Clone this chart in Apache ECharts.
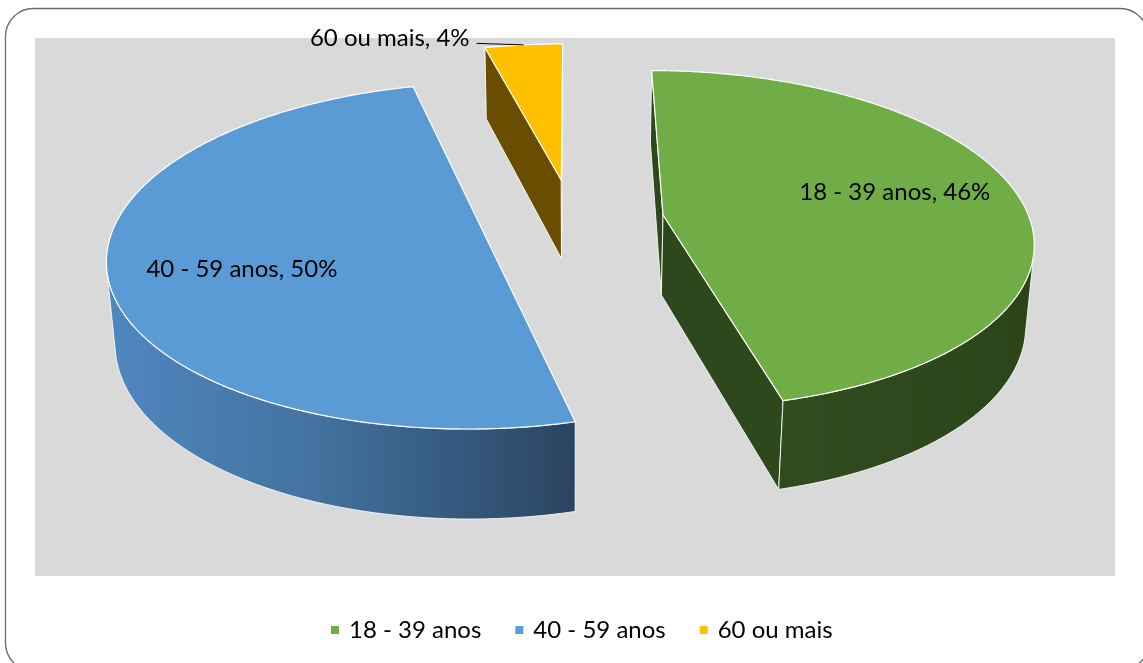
<!DOCTYPE html>
<html><head><meta charset="utf-8">
<script src="https://cdn.jsdelivr.net/npm/echarts@6/dist/echarts.min.js"></script>
<style>html,body{margin:0;padding:0;background:#fff}#c{width:1143px;height:663px}</style>
</head><body><div id="c"></div>
<script>
// ---- data ----
const categories = ['18 - 39 anos', '40 - 59 anos', '60 ou mais'];
const values = [46, 50, 4];

// ---- style ----
const topColors = ['#70ad47', '#5b9bd5', '#ffc000'];
const outerWallStops = [
  [[0, '#304c1f'], [1, '#2b4519']],
  [[0, '#4f87c0'], [0.45, '#43729f'], [1, '#2a4460']],
  [[0, '#6a4f00'], [1, '#5e4600']]
];
const radialColors = ['#2d481c', '#2b4561', '#6a4e00'];
const FONT = 'Lato, "Open Sans", sans-serif';

const VIEW = { cx: 572.4, cy: 220.2, f: 2275, D: 6.2, phi: 27 * Math.PI / 180, depth: 0.25, explode: 0.25 };
const sinP = Math.sin(VIEW.phi), cosP = Math.cos(VIEW.phi);
const cam = [0, VIEW.D * sinP, -VIEW.D * cosP];
function project(x, y, z) {
  const Yc = y * cosP + z * sinP;
  const Zc = VIEW.D + z * cosP - y * sinP;
  return [VIEW.cx + VIEW.f * x / Zc, VIEW.cy - VIEW.f * Yc / Zc];
}
const total = values.reduce((a, b) => a + b, 0);
const starts = []; let acc = 0;
values.forEach(v => { starts.push(acc / total * 2 * Math.PI); acc += v; });

function facing(n, p) {
  return n[0] * (cam[0] - p[0]) + n[1] * (cam[1] - p[1]) + n[2] * (cam[2] - p[2]) > 0;
}

function renderSlice(i) {
  const v = values[i];
  const a0 = starts[i], a1 = a0 + v / total * 2 * Math.PI, am = (a0 + a1) / 2;
  const ox = VIEW.explode * Math.sin(am), oz = VIEW.explode * Math.cos(am);
  const T = VIEW.depth;
  const rim = (a, y, r) => [ox + (r == null ? 1 : r) * Math.sin(a), y, oz + (r == null ? 1 : r) * Math.cos(a)];
  const pr = p => project(p[0], p[1], p[2]);
  const children = [];
  const edge = { stroke: 'rgba(255,255,255,0.85)', lineWidth: 1, lineJoin: 'round' };

  // radial walls
  [[a0, [-Math.cos(a0), 0, Math.sin(a0)]], [a1, [Math.cos(a1), 0, -Math.sin(a1)]]].forEach(([a, n]) => {
    if (facing(n, [ox, 0, oz])) {
      const pts = [pr([ox, 0, oz]), pr(rim(a, 0)), pr(rim(a, -T)), pr([ox, -T, oz])];
      children.push({ type: 'polygon', shape: { points: pts }, style: Object.assign({ fill: radialColors[i] }, edge) });
    }
  });

  // outer curved wall (visible run)
  const N = Math.max(12, Math.ceil((a1 - a0) / (Math.PI / 360)));
  let run = [], best = [];
  for (let k = 0; k <= N; k++) {
    const a = a0 + (a1 - a0) * k / N;
    if (facing([Math.sin(a), 0, Math.cos(a)], rim(a, 0))) run.push(a);
    else { if (run.length > best.length) best = run; run = []; }
  }
  if (run.length > best.length) best = run;
  if (best.length > 1) {
    const top = best.map(a => pr(rim(a, 0)));
    const bot = best.map(a => pr(rim(a, -T))).reverse();
    const pts = top.concat(bot);
    const xs = pts.map(p => p[0]);
    const minX = Math.min(...xs), maxX = Math.max(...xs);
    const grad = new echarts.graphic.LinearGradient(minX, 0, maxX, 0,
      outerWallStops[i].map(s => ({ offset: s[0], color: s[1] })), true);
    children.push({ type: 'polygon', shape: { points: pts }, style: Object.assign({ fill: grad }, edge) });
  }

  // top face
  const topPts = [pr([ox, 0, oz])];
  for (let k = 0; k <= N; k++) topPts.push(pr(rim(a0 + (a1 - a0) * k / N, 0)));
  children.push({ type: 'polygon', shape: { points: topPts }, style: { fill: topColors[i], stroke: '#ffffff', lineWidth: 1.2, lineJoin: 'round' } });

  // label
  const pct = Math.round(v / total * 100);
  const text = categories[i] + ', ' + pct + '%';
  if (v / total >= 0.1) {
    const p = pr(rim(am, 0, 0.65));
    const dy = Math.cos(am) >= 0 ? -9 : 11;
    children.push({ type: 'text', style: { text, x: p[0], y: p[1] + dy, fill: '#000', fontSize: 24, fontFamily: FONT, align: 'center', verticalAlign: 'middle' } });
  } else {
    const p = pr(rim(am, 0, 1));
    children.push({ type: 'line', shape: { x1: p[0], y1: p[1], x2: p[0] - 47, y2: p[1] - 1.5 }, style: { stroke: '#000', lineWidth: 1 } });
    children.push({ type: 'text', style: { text, x: p[0] - 54, y: p[1] - 7, fill: '#000', fontSize: 24, fontFamily: FONT, align: 'right', verticalAlign: 'middle' } });
  }
  return { type: 'group', children };
}

// draw order: farther slices first
const depthOf = i => { const a0 = starts[i], am = a0 + values[i] / total * Math.PI; return Math.cos(am); };

const series = categories.map((name, i) => ({
  type: 'custom',
  name,
  coordinateSystem: 'none',
  z: 10 - depthOf(i),
  itemStyle: { color: topColors[i] },
  data: [values[i]],
  renderItem: () => renderSlice(i)
}));

const chart = echarts.init(document.getElementById('c'), null, { renderer: 'canvas' });
chart.setOption({
  animation: false,
  graphic: [
    { type: 'rect', z: 0, shape: { x: 5.5, y: 8.5, width: 1142.5, height: 662.5, r: 28 }, style: { fill: '#fff', stroke: '#6b6b6b', lineWidth: 1.3 } },
    { type: 'rect', z: 1, shape: { x: 35, y: 38, width: 1080, height: 538 }, style: { fill: '#d9d9d9' } }
  ],
  legend: {
    left: 326, top: 613, icon: 'rect', itemWidth: 8, itemHeight: 8, itemGap: 34,
    data: categories,
    textStyle: { fontFamily: FONT, fontSize: 24, color: '#000', padding: [0, 0, 0, 5] }
  },
  series
});
</script></body></html>
